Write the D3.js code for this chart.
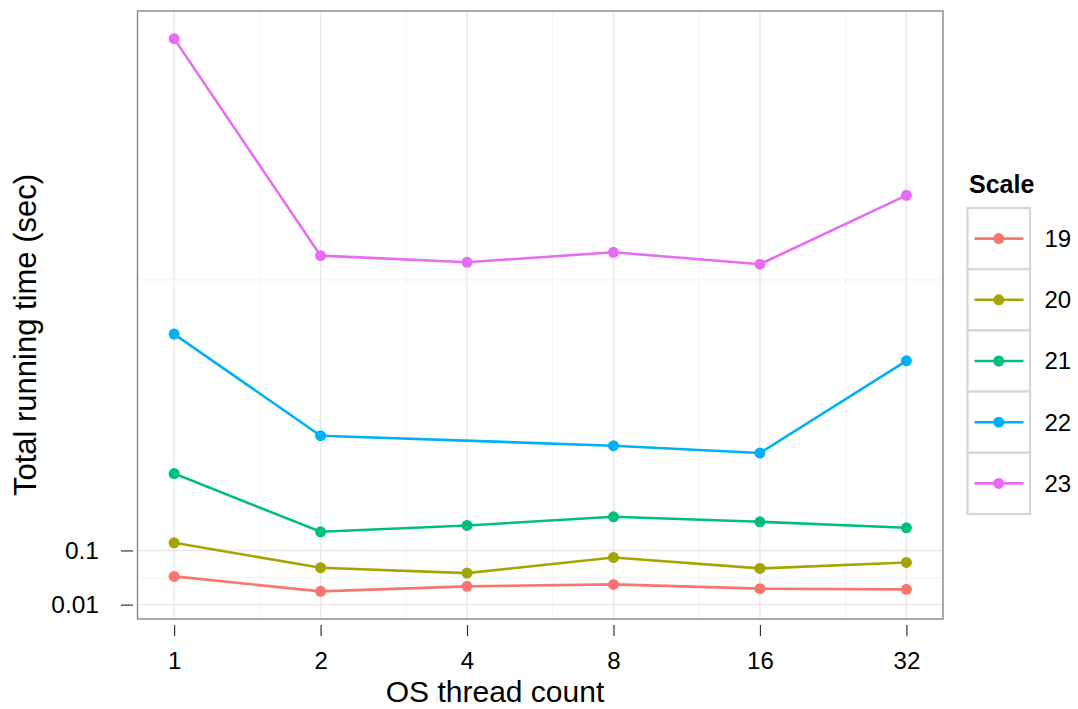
<!DOCTYPE html>
<html>
<head>
<meta charset="utf-8">
<script src="https://cdn.jsdelivr.net/npm/d3@7"></script>
<style>
  body { margin: 0; background: #fff; }
  svg { display: block; font-family: "Liberation Sans", Arial, Helvetica, sans-serif; }
</style>
</head>
<body>
<div id="chart"></div>
<script>
// data
const threads = [1, 2, 4, 8, 16, 32];
const scaleNames = ["19", "20", "21", "22", "23"];
const time19 = [0.0452, 0.0234, 0.0299, 0.0327, 0.0268, 0.0259];
const time20 = [0.1203, 0.0612, 0.0510, 0.0831, 0.0598, 0.0720];
const time21 = [0.388, 0.1526, 0.1729, 0.2029, 0.1853, 0.1653];
const time22 = [1.391, 0.599, null, 0.539, 0.497, 1.151];
const time23 = [5.56, 2.227, 2.149, 2.267, 2.126, 3.003];
const yTicks = [0.01, 0.1];
const yMinor = [0.0431, 1.947];
const xMinor = [1.5, 3, 6, 12, 24];
const colors = ["#F8766D", "#A3A500", "#00BF7D", "#00B0F6", "#E76BF3"];

const seriesValues = [time19, time20, time21, time22, time23];
const series = scaleNames.map((name, i) => ({
  name: name,
  values: threads.map((t, j) => ({ t: t, v: seriesValues[i][j] })).filter(d => d.v != null)
}));

const W = 1078, H = 709;
const panel = { left: 137.5, right: 943, top: 11, bottom: 619 };

const svg = d3.select("#chart").append("svg")
  .attr("width", W).attr("height", H);

// x: log2, y: sqrt, each expanded 5% like ggplot
let lx = threads.map(Math.log2);
let xPad = (d3.max(lx) - d3.min(lx)) * 0.05;
const x = d3.scaleLog().base(2)
  .domain([2 ** (d3.min(lx) - xPad), 2 ** (d3.max(lx) + xPad)])
  .range([panel.left, panel.right]);

let allV = seriesValues.flat().filter(v => v != null).map(Math.sqrt);
let yPad = (d3.max(allV) - d3.min(allV)) * 0.05;
const y = d3.scaleSqrt()
  .domain([(d3.min(allV) - yPad) ** 2, (d3.max(allV) + yPad) ** 2])
  .range([panel.bottom, panel.top]);

const color = d3.scaleOrdinal().domain(scaleNames).range(colors);

// grid
let grid = svg.append("g");
grid.selectAll(".yminor").data(yMinor).enter().append("line")
  .attr("x1", panel.left).attr("x2", panel.right)
  .attr("y1", d => y(d)).attr("y2", d => y(d))
  .attr("stroke", "#f4f4f4").attr("stroke-width", 1.2);
grid.selectAll(".xminor").data(xMinor).enter().append("line")
  .attr("y1", panel.top).attr("y2", panel.bottom)
  .attr("x1", d => x(d)).attr("x2", d => x(d))
  .attr("stroke", "#f4f4f4").attr("stroke-width", 1.2);
grid.selectAll(".ymajor").data(yTicks).enter().append("line")
  .attr("x1", panel.left).attr("x2", panel.right)
  .attr("y1", d => y(d)).attr("y2", d => y(d))
  .attr("stroke", "#e8e8e8").attr("stroke-width", 1.4);
grid.selectAll(".xmajor").data(threads).enter().append("line")
  .attr("y1", panel.top).attr("y2", panel.bottom)
  .attr("x1", d => x(d)).attr("x2", d => x(d))
  .attr("stroke", "#e8e8e8").attr("stroke-width", 1.4);

// lines then points
const line = d3.line().x(d => x(d.t)).y(d => y(d.v));
svg.selectAll(".series-line").data(series).enter().append("path")
  .attr("class", "series-line")
  .attr("d", d => line(d.values))
  .attr("fill", "none")
  .attr("stroke", d => color(d.name))
  .attr("stroke-width", 2.6);

series.forEach(s => {
  svg.selectAll(".pt-" + s.name).data(s.values).enter().append("circle")
    .attr("cx", d => x(d.t)).attr("cy", d => y(d.v))
    .attr("r", 5.5)
    .attr("fill", color(s.name));
});

// panel border
svg.append("rect")
  .attr("x", panel.left).attr("y", panel.top)
  .attr("width", panel.right - panel.left).attr("height", panel.bottom - panel.top)
  .attr("fill", "none").attr("stroke", "#8f8f8f").attr("stroke-width", 1.5);

// axes
let xAxis = svg.append("g")
  .attr("transform", `translate(0, 625)`)
  .call(d3.axisBottom(x).tickValues(threads).tickFormat(d3.format("d")).tickSize(11).tickPadding(20));
xAxis.select(".domain").remove();
xAxis.selectAll("line").attr("stroke", "#333").attr("stroke-width", 1.2);
xAxis.selectAll("text")
  .attr("fill", "#000").style("font-size", "24px")
  .attr("y", 44).attr("dy", null);

let yAxis = svg.append("g")
  .attr("transform", `translate(133, 0)`)
  .call(d3.axisLeft(y).tickValues(yTicks).tickFormat(d => d).tickSize(12).tickPadding(22));
yAxis.select(".domain").remove();
yAxis.selectAll("line").attr("stroke", "#333").attr("stroke-width", 1.2);
yAxis.selectAll("text")
  .attr("fill", "#000").style("font-size", "24.5px");

// axis titles
svg.append("text")
  .attr("x", 495).attr("y", 702)
  .attr("text-anchor", "middle")
  .style("font-size", "30px")
  .text("OS thread count");

svg.append("text")
  .attr("transform", "translate(36, 335) rotate(-90)")
  .attr("text-anchor", "middle")
  .style("font-size", "31px")
  .text("Total running time (sec)");

// legend
let legend = svg.append("g").attr("transform", "translate(967.5, 208)");
legend.append("text")
  .attr("x", 1.5).attr("y", -15)
  .style("font-size", "25px").style("font-weight", "bold")
  .text("Scale");

const keyH = 61.2, keyW = 62.5;
scaleNames.forEach((name, i) => {
  let g = legend.append("g").attr("transform", `translate(0, ${i * keyH})`);
  g.append("rect")
    .attr("width", keyW).attr("height", keyH)
    .attr("fill", "#fff").attr("stroke", "#d6d6d6").attr("stroke-width", 2.2);
  g.append("line")
    .attr("x1", 7).attr("x2", 56)
    .attr("y1", keyH / 2).attr("y2", keyH / 2)
    .attr("stroke", color(name)).attr("stroke-width", 2.6);
  g.append("circle")
    .attr("cx", keyW / 2).attr("cy", keyH / 2).attr("r", 5.5)
    .attr("fill", color(name));
  g.append("text")
    .attr("x", 77).attr("y", keyH / 2)
    .attr("dy", "0.35em")
    .style("font-size", "24px")
    .text(name);
});
</script>
</body>
</html>
